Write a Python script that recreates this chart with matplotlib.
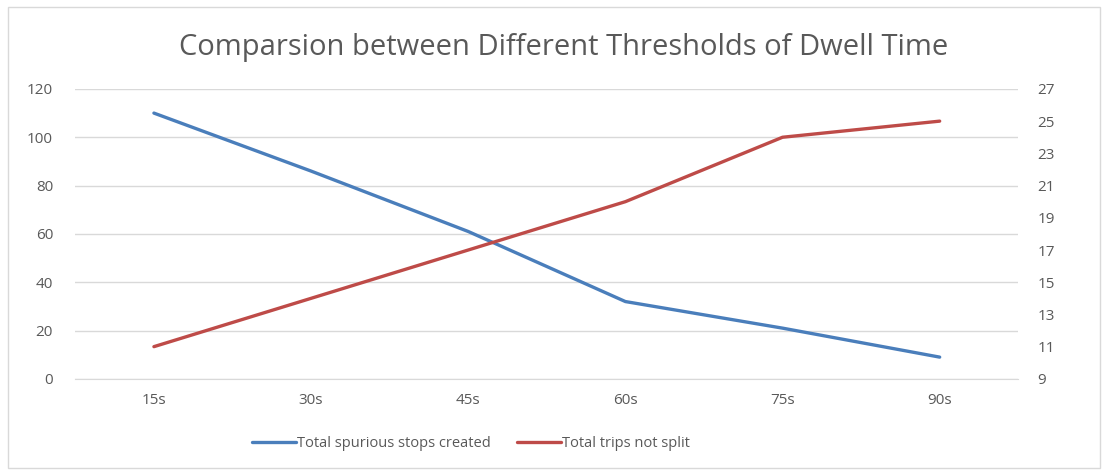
import matplotlib.pyplot as plt
from matplotlib.patches import Rectangle

# data
thresholds = ["15s", "30s", "45s", "60s", "75s", "90s"]
spurious_stops = [110, 86, 61, 32, 21, 9]
trips_not_split = [11, 14, 17, 20, 24, 25]

plt.rcParams['font.family'] = ['Open Sans', 'DejaVu Sans']
grey = "#595959"

fig = plt.figure(figsize=(11.08, 4.73), dpi=100)
ax = fig.add_axes([0.068, 0.199, 0.851, 0.613])
ax2 = ax.twinx()

x = range(len(thresholds))
l1, = ax.plot(x, spurious_stops, color="#4A7EBB", lw=2.4, solid_capstyle="round",
              label="Total spurious stops created")
l2, = ax2.plot(x, trips_not_split, color="#BE4B48", lw=2.4, solid_capstyle="round",
               label="Total trips not split")

ax.set_xlim(-0.5, len(thresholds) - 0.5)
ax.set_ylim(0, 120)
ax.set_yticks(range(0, 121, 20))
ax2.set_ylim(9, 27)
ax2.set_yticks(range(9, 28, 2))
ax.set_xticks(list(x))
ax.set_xticklabels(thresholds)

ax.grid(axis="y", color="#D9D9D9", lw=1)
ax.set_axisbelow(True)
for a in (ax, ax2):
    for s in a.spines.values():
        s.set_visible(False)
    a.tick_params(length=0, colors=grey, labelsize=11)
ax.tick_params(axis="y", pad=16)
ax2.tick_params(axis="y", pad=14)
ax.tick_params(axis="x", pad=10)
ax.spines["bottom"].set_visible(True)
ax.spines["bottom"].set_color("#D9D9D9")

fig.text(0.509, 0.9, "Comparsion between Different Thresholds of Dwell Time",
         ha="center", va="center", fontsize=21, color=grey)

fig.legend(handles=[l1, l2], loc="center", bbox_to_anchor=(0.425, 0.063), ncol=2,
           frameon=False, fontsize=10.5, handlelength=3.0, handletextpad=0.1,
           columnspacing=1.8, labelcolor=grey)

fig.patches.append(Rectangle((0.007, 0.01), 0.986, 0.975, transform=fig.transFigure,
                             fill=False, edgecolor="#D9D9D9", lw=1))

fig.savefig("out.png", dpi=100, facecolor="white")
